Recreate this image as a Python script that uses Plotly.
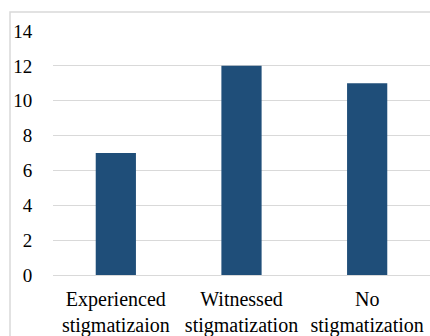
import plotly.graph_objects as go

categories = ["Experienced<br>stigmatizaion", "Witnessed<br>stigmatization", "No<br>stigmatization"]
counts = [7, 12, 11]
y_ticks = [0, 2, 4, 6, 8, 10, 12, 14]

W, H = 430, 336
ML, MR, MT, MB = 53, 0, 31, 61
plot_w = W - ML - MR
plot_h = H - MT - MB

fig = go.Figure(go.Bar(
    x=categories, y=counts,
    marker=dict(color="#1f4e79", line=dict(width=0)),
    width=0.32,
))

x_font = dict(family="Liberation Serif", size=20, color="#000000")
y_font = dict(family="Liberation Serif", size=19, color="#000000")

fig.update_layout(
    width=W, height=H,
    margin=dict(l=ML, r=MR, t=MT, b=MB, pad=0),
    paper_bgcolor="white", plot_bgcolor="white",
    showlegend=False,
    font=y_font,
    xaxis=dict(
        showgrid=False, showline=False, zeroline=False,
        ticks="outside", ticklen=6, tickcolor="rgba(0,0,0,0)",
        tickfont=x_font, automargin=False,
    ),
    yaxis=dict(
        range=[0, 14], tickvals=y_ticks,
        showgrid=True, gridcolor="#d9d9d9", gridwidth=1.3,
        zeroline=True, zerolinecolor="#d9d9d9", zerolinewidth=1.3,
        showline=False,
        ticks="outside", ticklen=16, tickcolor="rgba(0,0,0,0)",
        tickfont=y_font, automargin=False,
    ),
    shapes=[dict(
        type="rect", xref="paper", yref="paper",
        x0=(10 - ML) / plot_w, x1=1.05,
        y0=-0.4, y1=(MT + plot_h - 12) / plot_h,
        line=dict(color="#d9d9d9", width=1.5),
        fillcolor="rgba(0,0,0,0)", layer="below",
    )],
)

fig.write_html("out.html")
